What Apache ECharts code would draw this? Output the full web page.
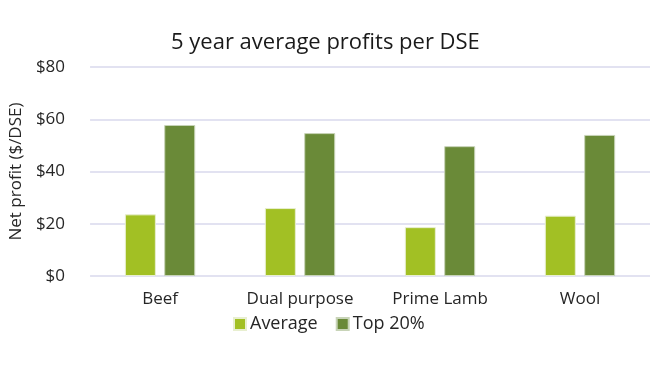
<!DOCTYPE html>
<html><head><meta charset="utf-8">
<script src="https://cdn.jsdelivr.net/npm/echarts@6/dist/echarts.min.js"></script>
<style>html,body{margin:0;padding:0;background:#fff}#c{width:660px;height:371px}</style>
</head><body><div id="c"></div>
<script>
const categories = ['Beef', 'Dual purpose', 'Prime Lamb', 'Wool'];
const averageValues = [23.6, 26, 18.7, 23.1];
const top20Values = [57.8, 54.7, 49.7, 54];
const yTicks = [0, 20, 40, 60, 80];
const font = '"Open Sans", sans-serif';
const chart = echarts.init(document.getElementById('c'));
chart.setOption({
  animation: false,
  title: { text: '5 year average profits per DSE', left: 166, top: 27,
    textStyle: { fontFamily: font, fontSize: 22, fontWeight: 'normal', color: '#1a1a1a' } },
  legend: { bottom: 33, left: 228, itemWidth: 12, itemHeight: 12, itemGap: 18, icon: 'rect',
    textStyle: { fontFamily: font, fontSize: 18, color: '#262626', padding: [0,0,0,-1] },
    data: ['Average', 'Top 20%'] },
  grid: { left: 90, right: 10, top: 67, bottom: 95 },
  xAxis: { type: 'category', data: categories,
    axisLine: { show: false }, axisTick: { show: false },
    axisLabel: { fontFamily: font, fontSize: 17, color: '#262626', margin: 15 } },
  yAxis: { type: 'value', min: yTicks[0], max: yTicks[yTicks.length-1], interval: 20,
    name: 'Net profit ($/DSE)', nameLocation: 'middle', nameGap: 64,
    nameTextStyle: { fontFamily: font, fontSize: 17, color: '#262626' },
    axisLabel: { fontFamily: font, fontSize: 17, color: '#262626', margin: 25, formatter: v => '$' + v },
    splitLine: { lineStyle: { color: '#D9D9EC', width: 1.5 } } },
  series: [
    { name: 'Average', type: 'bar', data: averageValues, barWidth: 31, barGap: '27%',
      itemStyle: { color: '#A2C024', borderColor: '#E8EFD0', borderWidth: 1 } },
    { name: 'Top 20%', type: 'bar', data: top20Values, barWidth: 31,
      itemStyle: { color: '#6A8A38', borderColor: '#C8D4B8', borderWidth: 1 } }
  ]
});
</script></body></html>
